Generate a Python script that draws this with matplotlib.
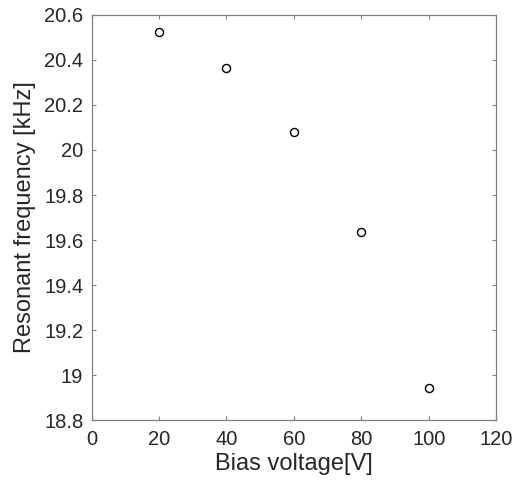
import matplotlib
matplotlib.use("Agg")
import matplotlib.pyplot as plt

# bias voltage vs resonant frequency
bias_v = [20, 40, 60, 80, 100]
freq_khz = [20.523, 20.364, 20.08, 19.637, 18.942]

xticks = [0, 20, 40, 60, 80, 100, 120]
yticks = [18.8, 19.0, 19.2, 19.4, 19.6, 19.8, 20.0, 20.2, 20.4, 20.6]
ytick_labels = ['18.8', '19', '19.2', '19.4', '19.6', '19.8', '20', '20.2', '20.4', '20.6']

plt.rcParams['font.family'] = ['Liberation Sans', 'DejaVu Sans']
txt = '#262626'

fig = plt.figure(figsize=(5.12, 4.82), dpi=100)
ax = fig.add_axes([0.179, 0.1286, 0.79, 0.8403])

ax.plot(bias_v, freq_khz, linestyle='none', marker='o', markersize=5.8,
        markerfacecolor='none', markeredgecolor='black', markeredgewidth=1.0)

ax.set_xlim(0, 120)
ax.set_ylim(18.8, 20.6)
ax.set_xticks(xticks)
ax.set_yticks(yticks)
ax.set_yticklabels(ytick_labels)

for s in ax.spines.values():
    s.set_color('#808080')
    s.set_linewidth(0.9)
ax.tick_params(direction='in', length=3, width=0.8, color='#808080',
               labelcolor=txt, labelsize=14.5, top=True, right=True)
ax.tick_params(axis='x', pad=7)
ax.tick_params(axis='y', pad=6)

ax.set_xlabel('Bias voltage[V]', fontsize=17, color=txt, labelpad=3)
ax.set_ylabel('Resonant frequency [kHz]', fontsize=17, color=txt, labelpad=6)

fig.savefig('out.png', dpi=100)
